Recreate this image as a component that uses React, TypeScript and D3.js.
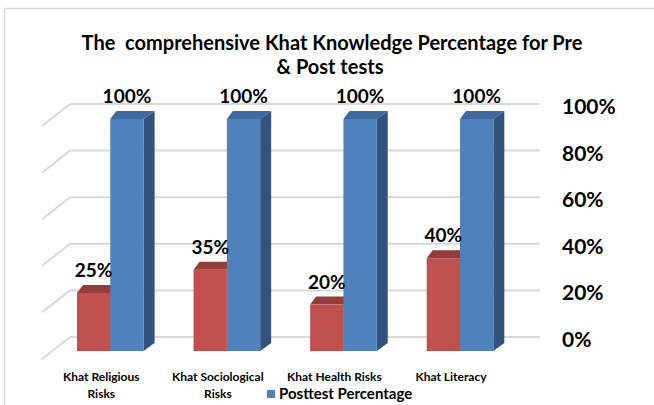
import { useEffect, useRef } from "react";
import * as d3 from "d3";

const categories = ["Khat Religious Risks", "Khat Sociological Risks", "Khat Health Risks", "Khat Literacy"];
const categoryLines = [["Khat Religious", "Risks"], ["Khat Sociological", "Risks"], ["Khat Health Risks"], ["Khat Literacy"]];
const pretest = [25, 35, 20, 40];
const posttest = [100, 100, 100, 100];
const ticks = [0, 20, 40, 60, 80, 100];
const seriesNames = ["Pretest Percentage", "Posttest Percentage"];

const FONT = "Lato, 'Open Sans', sans-serif";

export default function App() {
  const svgRef = useRef<SVGSVGElement | null>(null);

  useEffect(() => {
    if (!svgRef.current) return;
    const svg = d3.select(svgRef.current);
    svg.selectAll("*").remove();

    const width = 654;
    const height = 405;

    svg.append("rect").attr("width", width).attr("height", height).attr("fill", "#fff");

    // chart frame (only top and left edges are in view)
    svg.append("path")
      .attr("d", `M4.5,${height} V8.5 H${width}`)
      .attr("fill", "none")
      .attr("stroke", "#d9d9d9")
      .attr("stroke-width", 1.5);

    // front plane scale for bars, back wall scale for gridlines
    const y = d3.scaleLinear().domain([0, 100]).range([351, 119]);
    const yBack = d3.scaleLinear().domain([0, 100]).range([337, 104]);

    const x = d3.scaleBand<string>()
      .domain(categories)
      .range([52, 518.3])
      .paddingInner(0.4286)
      .paddingOuter(0.2143);
    const xs = d3.scaleBand<string>().domain(seriesNames).range([0, x.bandwidth()]);

    // depth offsets of the pseudo 3D look
    const dxL = 6, dxR = 11, dz = 8;
    const wallDx = -28, wallDy = 22;

    // gridlines on the back wall + side wall diagonals
    const grid = svg.append("g").attr("stroke", "#d9d9d9").attr("stroke-width", 2).attr("fill", "none");
    ticks.forEach((t) => {
      const gy = yBack(t);
      grid.append("line").attr("x1", 70).attr("x2", 540).attr("y1", gy).attr("y2", gy);
      grid.append("line").attr("x1", 70).attr("y1", gy).attr("x2", 70 + wallDx).attr("y2", gy + wallDy);
    });

    // right axis labels
    svg.append("g")
      .selectAll("text")
      .data(ticks)
      .join("text")
      .attr("x", 562)
      .attr("y", (d) => yBack(d) + 10)
      .attr("font-family", FONT)
      .attr("font-weight", 700)
      .attr("font-size", 21)
      .attr("fill", "#000")
      .text((d) => `${d}%`);

    const colors = [
      { front: "#c0504d", top: "#923d3b", side: "#8a3836" },
      { front: "#4f81bd", top: "#3e6aa0", side: "#32537c" },
    ];

    const drawBar = (x0: number, w: number, v: number, c: { front: string; top: string; side: string }) => {
      const x1 = x0 + w;
      const yt = y(v);
      const yb = y(0);
      const g = svg.append("g");
      g.append("polygon")
        .attr("points", [[x1, yt], [x1 + dxR, yt - dz], [x1 + dxR, yb - dz], [x1, yb]].map((p) => p.join(",")).join(" "))
        .attr("fill", c.side);
      g.append("polygon")
        .attr("points", [[x0, yt], [x0 + dxL, yt - dz], [x1 + dxR, yt - dz], [x1, yt]].map((p) => p.join(",")).join(" "))
        .attr("fill", c.top);
      g.append("rect")
        .attr("x", x0)
        .attr("y", yt)
        .attr("width", w)
        .attr("height", yb - yt)
        .attr("fill", c.front);
    };

    categories.forEach((cat, i) => {
      const values = [pretest[i], posttest[i]];
      values.forEach((v, s) => {
        const bx = (x(cat) ?? 0) + (xs(seriesNames[s]) ?? 0);
        drawBar(bx, xs.bandwidth(), v, colors[s]);
      });
      values.forEach((v, s) => {
        const bx = (x(cat) ?? 0) + (xs(seriesNames[s]) ?? 0);
        svg.append("text")
          .attr("x", bx + xs.bandwidth() / 2)
          .attr("y", y(v) - 16)
          .attr("text-anchor", "middle")
          .attr("font-family", FONT)
          .attr("font-weight", 700)
          .attr("font-size", 19)
          .attr("fill", "#000")
          .text(`${v}%`);
      });

      // category labels on the front of the floor
      const cx = (x(cat) ?? 0) + x.bandwidth() / 2 - 9;
      categoryLines[i].forEach((line, k) => {
        svg.append("text")
          .attr("x", cx)
          .attr("y", 381 + k * 17)
          .attr("text-anchor", "middle")
          .attr("font-family", FONT)
          .attr("font-weight", 700)
          .attr("font-size", 12)
          .attr("fill", "#000")
          .text(line);
      });
    });

    // legend (only the posttest entry is visible)
    svg.append("rect").attr("x", 267).attr("y", 390).attr("width", 8).attr("height", 8).attr("fill", colors[1].front);
    svg.append("text")
      .attr("x", 279)
      .attr("y", 399)
      .attr("font-family", FONT)
      .attr("font-weight", 700)
      .attr("font-size", 15)
      .attr("fill", "#000")
      .text(seriesNames[1]);

    // title
    const title = svg.append("text")
      .attr("text-anchor", "middle")
      .attr("font-family", FONT)
      .attr("font-weight", 700)
      .attr("font-size", 20)
      .attr("fill", "#000");
    title.append("tspan").attr("x", 332).attr("y", 50).attr("xml:space", "preserve").text("The  comprehensive Khat Knowledge Percentage for Pre");
    title.append("tspan").attr("x", 330).attr("y", 74).text("& Post tests");
  }, []);

  return (
    <svg
      ref={svgRef}
      width={654}
      height={405}
      style={{ position: "absolute", left: 0, top: 0, display: "block" }}
    />
  );
}
